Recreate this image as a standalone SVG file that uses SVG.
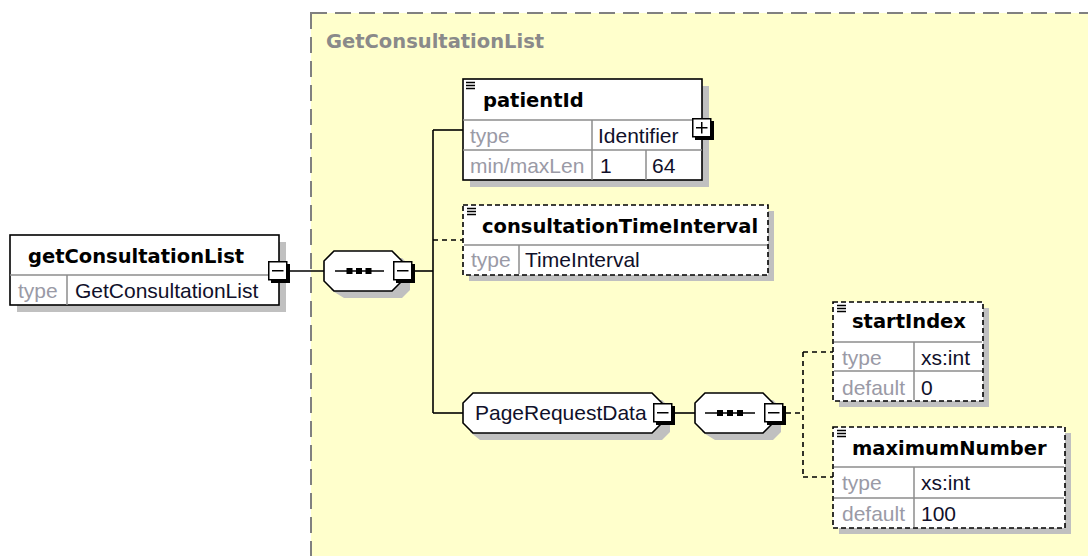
<svg xmlns="http://www.w3.org/2000/svg" xmlns:xlink="http://www.w3.org/1999/xlink" width="1088" height="556" viewBox="0 0 1088 556">
<style>
.h{font-family:"DejaVu Sans","Liberation Sans",sans-serif;font-weight:bold;font-size:19.5px;fill:#000}
.t{font-family:"Liberation Sans",Arial,sans-serif;font-size:21px;fill:#10102a}
.g{fill:#9a9aa6}
.box{fill:#fff;stroke:#000;stroke-width:1.6}
.opt{stroke-dasharray:5 3}
.div{stroke:#8c8c8c;stroke-width:1.5;fill:none}
.sh{fill:#c0c0c0}
.ln{stroke:#000;stroke-width:1.6;fill:none}
.dl{stroke-dasharray:5 4}
</style>
<defs>
<g id="minus"><rect x="3" y="3" width="19" height="19" fill="#000"/><rect x="0.75" y="0.75" width="18" height="18" fill="#fff" stroke="#000" stroke-width="1.5"/><line x1="4" y1="9.75" x2="15.5" y2="9.75" stroke="#000" stroke-width="1.5"/></g>
<g id="plus"><rect x="3" y="3" width="19" height="19" fill="#000"/><rect x="0.75" y="0.75" width="18" height="18" fill="#fff" stroke="#000" stroke-width="1.5"/><line x1="4" y1="9.75" x2="15.5" y2="9.75" stroke="#000" stroke-width="1.5"/><line x1="9.75" y1="4" x2="9.75" y2="15.5" stroke="#000" stroke-width="1.5"/></g>
<path id="doc" d="M0 0.5h9M0 3.5h9M0 6.5h9" stroke="#000" stroke-width="1.3" fill="none"/>
</defs>

<g id="complexType-GetConsultationList">
<rect x="311" y="13" width="800" height="600" fill="#FFFFCC" stroke="#808080" stroke-width="2" stroke-dasharray="16 8"/>
<text x="326" y="48" class="h" style="fill:#8a8a8a">GetConsultationList</text>
</g>

<g id="connectors">
<line x1="290" y1="271" x2="325" y2="271" class="ln"/>
<line x1="414" y1="271" x2="433" y2="271" class="ln"/>
<line x1="433" y1="130" x2="433" y2="413" class="ln"/>
<line x1="433" y1="130" x2="463" y2="130" class="ln"/>
<line x1="433" y1="240" x2="463" y2="240" class="ln dl"/>
<line x1="433" y1="413" x2="463" y2="413" class="ln"/>
<line x1="674" y1="413" x2="695" y2="413" class="ln"/>
<line x1="786" y1="413" x2="803" y2="413" class="ln dl"/>
<line x1="803" y1="352" x2="803" y2="477" class="ln dl"/>
<line x1="803" y1="352" x2="833" y2="352" class="ln dl"/>
<line x1="803" y1="477" x2="833" y2="477" class="ln dl"/>
</g>

<g id="getConsultationList">
<rect x="17" y="242" width="269" height="70" class="sh"/>
<rect x="10" y="235" width="269" height="70" class="box"/>
<line x1="10" y1="275" x2="279" y2="275" class="div"/>
<line x1="67" y1="275" x2="67" y2="305" class="div"/>
<text x="28" y="263" class="h">getConsultationList</text>
<text x="18" y="298" class="t g">type</text>
<text x="75" y="298" class="t">GetConsultationList</text>
<use xlink:href="#minus" x="268" y="261"/>
</g>

<g id="sequence1">
<polygon points="344,258 402,258 410,266 410,290 402,298 344,298 331,290 331,266" class="sh"/>
<polygon points="334,251 392,251 402,261 402,281 392,291 334,291 324,281 324,261" fill="#fff" stroke="#000" stroke-width="1.6"/>
<line x1="335" y1="271" x2="384" y2="271" stroke="#000" stroke-width="1.6"/>
<rect x="346.5" y="268" width="6" height="6" fill="#000"/>
<rect x="356" y="268" width="6" height="6" fill="#000"/>
<rect x="365.5" y="268" width="6" height="6" fill="#000"/>
<use xlink:href="#minus" x="393" y="261"/>
</g>

<g id="patientId">
<rect x="470" y="86" width="239" height="101" class="sh"/>
<rect x="463" y="79" width="239" height="101" class="box"/>
<line x1="463" y1="120" x2="702" y2="120" class="div"/>
<line x1="463" y1="150" x2="702" y2="150" class="div"/>
<line x1="592" y1="120" x2="592" y2="180" class="div"/>
<line x1="646" y1="150" x2="646" y2="180" class="div"/>
<use xlink:href="#doc" x="466" y="82"/>
<text x="483" y="107" class="h">patientId</text>
<text x="470" y="143" class="t g">type</text>
<text x="598" y="143" class="t">Identifier</text>
<text x="470" y="173" class="t g">min/maxLen</text>
<text x="600" y="173" class="t">1</text>
<text x="652" y="173" class="t">64</text>
<use xlink:href="#plus" x="692" y="118"/>
</g>

<g id="consultationTimeInterval">
<rect x="469" y="211" width="305" height="70" class="sh"/>
<rect x="463" y="205" width="305" height="70" class="box opt"/>
<line x1="464" y1="245" x2="767" y2="245" class="div"/>
<line x1="519" y1="245" x2="519" y2="274" class="div"/>
<use xlink:href="#doc" x="467" y="208"/>
<text x="482" y="233" class="h">consultationTimeInterval</text>
<text x="471" y="267" class="t g">type</text>
<text x="525" y="267" class="t">TimeInterval</text>
</g>

<g id="PageRequestData">
<polygon points="480,400 662,400 670,408 670,432 662,440 480,440 470,432 470,408" class="sh"/>
<polygon points="473,393 652,393 662,403 662,423 652,433 473,433 463,423 463,403" fill="#fff" stroke="#000" stroke-width="1.6"/>
<text x="475" y="420" class="t">PageRequestData</text>
<use xlink:href="#minus" x="653" y="403"/>
</g>

<g id="sequence2">
<polygon points="715,400 773,400 781,408 781,432 773,440 715,440 702,432 702,408" class="sh"/>
<polygon points="705,393 763,393 773,403 773,423 763,433 705,433 695,423 695,403" fill="#fff" stroke="#000" stroke-width="1.6"/>
<line x1="705" y1="413" x2="755" y2="413" stroke="#000" stroke-width="1.6"/>
<rect x="717" y="410" width="6" height="6" fill="#000"/>
<rect x="727" y="410" width="6" height="6" fill="#000"/>
<rect x="737" y="410" width="6" height="6" fill="#000"/>
<use xlink:href="#minus" x="764" y="403"/>
</g>

<g id="startIndex">
<rect x="839" y="308" width="150" height="99" class="sh"/>
<rect x="833" y="302" width="150" height="99" class="box opt"/>
<line x1="834" y1="342" x2="982" y2="342" class="div"/>
<line x1="834" y1="371" x2="982" y2="371" class="div"/>
<line x1="914" y1="342" x2="914" y2="400" class="div"/>
<use xlink:href="#doc" x="837" y="305"/>
<text x="852" y="328" class="h">startIndex</text>
<text x="842" y="365" class="t g">type</text>
<text x="921" y="365" class="t">xs:int</text>
<text x="842" y="395" class="t g">default</text>
<text x="921" y="395" class="t">0</text>
</g>

<g id="maximumNumber">
<rect x="839" y="433" width="232" height="101" class="sh"/>
<rect x="833" y="427" width="232" height="101" class="box opt"/>
<line x1="834" y1="467" x2="1064" y2="467" class="div"/>
<line x1="834" y1="498" x2="1064" y2="498" class="div"/>
<line x1="914" y1="467" x2="914" y2="527" class="div"/>
<use xlink:href="#doc" x="837" y="430"/>
<text x="852" y="455" class="h">maximumNumber</text>
<text x="842" y="490" class="t g">type</text>
<text x="921" y="490" class="t">xs:int</text>
<text x="842" y="521" class="t g">default</text>
<text x="921" y="521" class="t">100</text>
</g>
</svg>
